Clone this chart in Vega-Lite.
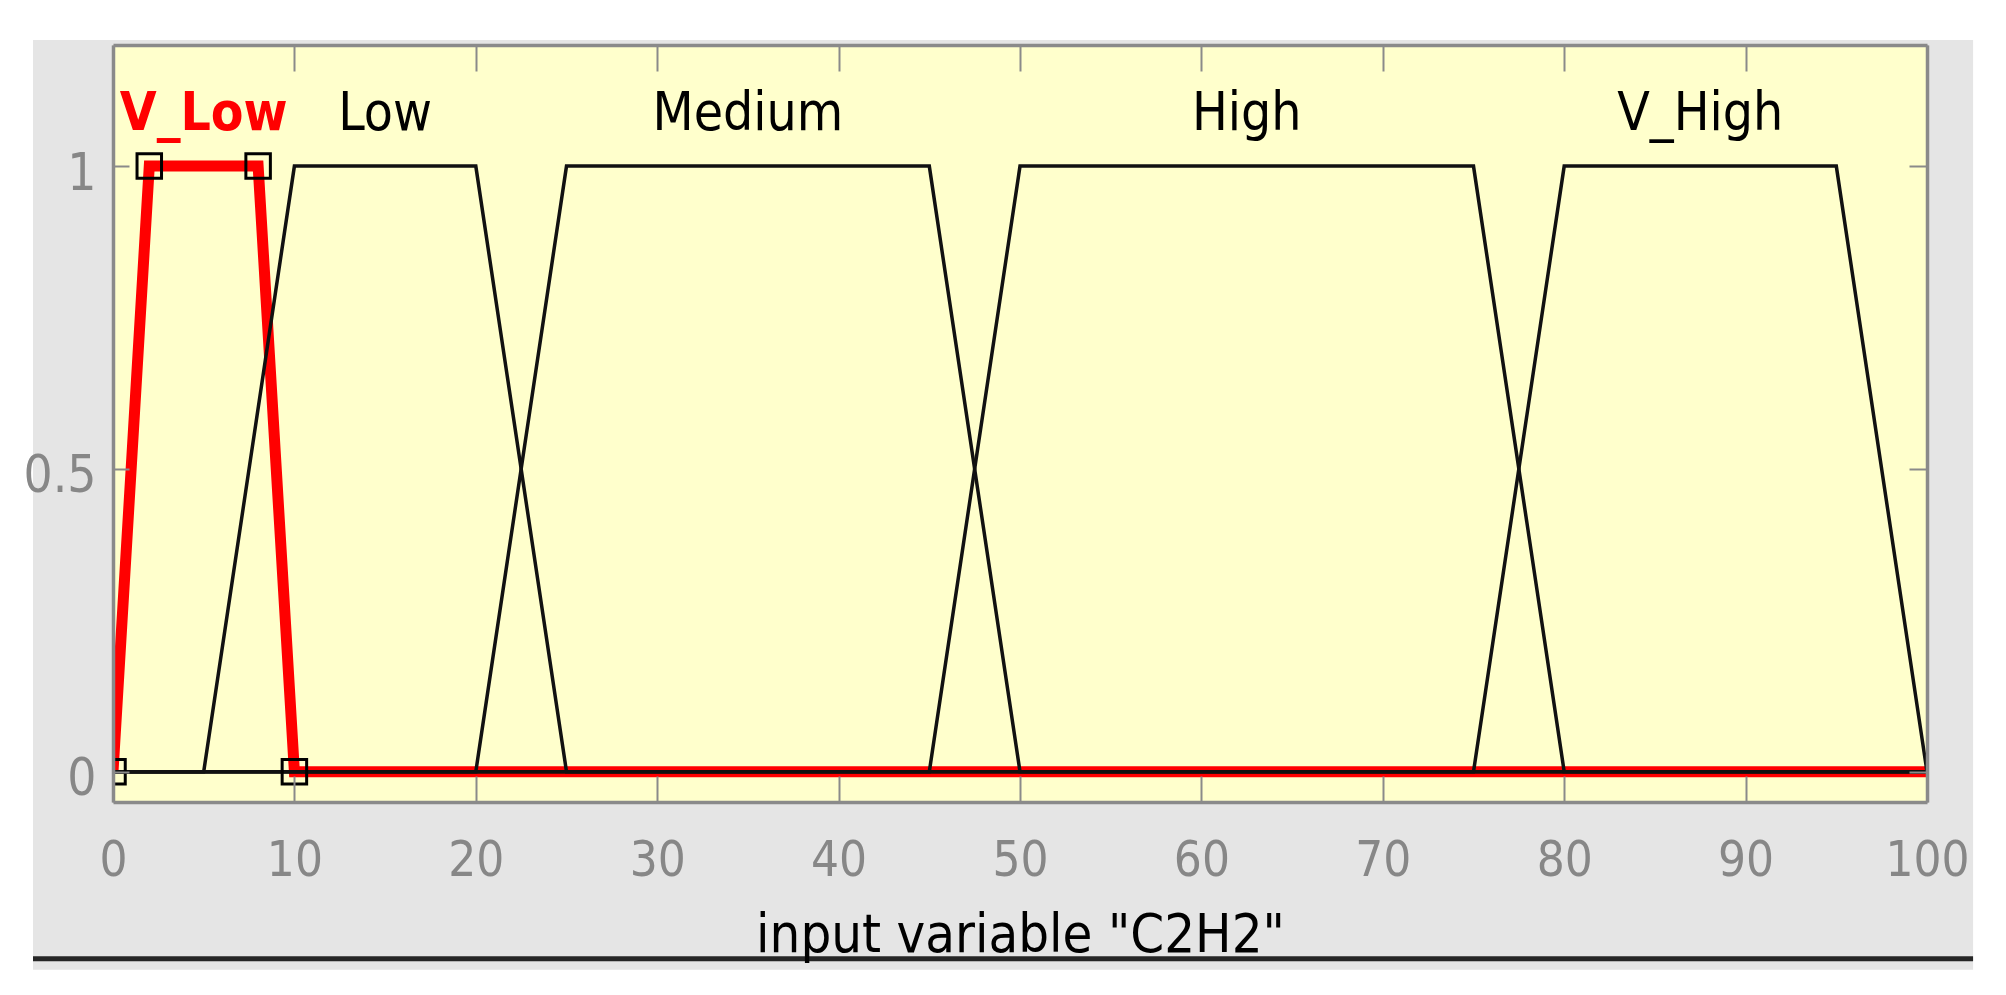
{
  "$schema": "https://vega.github.io/schema/vega-lite/v6.json",
  "width": 1814,
  "height": 757,
  "autosize": {"type": "none"},
  "padding": {"left": 113, "top": 45, "right": 79, "bottom": 193},
  "background": "white",
  "config": {"view": {"stroke": null}, "font": "DejaVu Sans Condensed, DejaVu Sans"},
  "datasets": {
    "mf": [
      {"mf": "V_Low", "x": 0, "y": 0}, {"mf": "V_Low", "x": 2, "y": 1}, {"mf": "V_Low", "x": 8, "y": 1}, {"mf": "V_Low", "x": 10, "y": 0}, {"mf": "V_Low", "x": 100, "y": 0},
      {"mf": "Low", "x": 0, "y": 0}, {"mf": "Low", "x": 5, "y": 0}, {"mf": "Low", "x": 10, "y": 1}, {"mf": "Low", "x": 20, "y": 1}, {"mf": "Low", "x": 25, "y": 0}, {"mf": "Low", "x": 100, "y": 0},
      {"mf": "Medium", "x": 0, "y": 0}, {"mf": "Medium", "x": 20, "y": 0}, {"mf": "Medium", "x": 25, "y": 1}, {"mf": "Medium", "x": 45, "y": 1}, {"mf": "Medium", "x": 50, "y": 0}, {"mf": "Medium", "x": 100, "y": 0},
      {"mf": "High", "x": 0, "y": 0}, {"mf": "High", "x": 45, "y": 0}, {"mf": "High", "x": 50, "y": 1}, {"mf": "High", "x": 75, "y": 1}, {"mf": "High", "x": 80, "y": 0}, {"mf": "High", "x": 100, "y": 0},
      {"mf": "V_High", "x": 0, "y": 0}, {"mf": "V_High", "x": 75, "y": 0}, {"mf": "V_High", "x": 80, "y": 1}, {"mf": "V_High", "x": 95, "y": 1}, {"mf": "V_High", "x": 100, "y": 0}
    ],
    "labels": [
      {"name": "V_Low", "center": 5},
      {"name": "Low", "center": 15},
      {"name": "Medium", "center": 35},
      {"name": "High", "center": 62.5},
      {"name": "V_High", "center": 87.5}
    ]
  },
  "resolve": {"axis": {"x": "independent", "y": "independent"}},
  "layer": [
    {
      "data": {"values": [{}]},
      "mark": {"type": "rect", "color": "#e5e5e5"},
      "encoding": {
        "x": {"datum": -4.41, "type": "quantitative", "scale": {"domain": [0, 100], "nice": false, "zero": false}, "axis": null},
        "x2": {"datum": 102.54},
        "y": {"datum": 1.2083, "type": "quantitative", "scale": {"domain": [-0.05, 1.2], "nice": false, "zero": false}, "axis": null},
        "y2": {"datum": -0.327}
      }
    },
    {
      "data": {"values": [{}]},
      "mark": {"type": "rule", "color": "#262626", "strokeWidth": 5},
      "encoding": {
        "x": {"datum": -4.41, "type": "quantitative", "axis": null},
        "x2": {"datum": 102.54},
        "y": {"datum": -0.309, "type": "quantitative", "axis": null}
      }
    },
    {
      "data": {"values": [{}]},
      "mark": {"type": "rect", "color": "#ffffcc"},
      "encoding": {
        "x": {"datum": 0, "type": "quantitative", "axis": {"orient": "top", "values": [0, 10, 20, 30, 40, 50, 60, 70, 80, 90, 100], "tickSize": -26, "tickColor": "#8a8a8a", "tickWidth": 2, "domainColor": "#8a8a8a", "domainWidth": 3.5, "labels": false, "grid": false, "title": null, "zindex": 1}},
        "x2": {"datum": 100},
        "y": {"datum": -0.05, "type": "quantitative", "axis": {"orient": "right", "values": [0, 0.5, 1], "tickSize": -18, "tickColor": "#8a8a8a", "tickWidth": 2, "domainColor": "#8a8a8a", "domainWidth": 3.5, "labels": false, "grid": false, "title": null, "zindex": 1}},
        "y2": {"datum": 1.2}
      }
    },
    {
      "data": {"name": "mf"},
      "transform": [{"filter": "datum.mf === 'V_Low'"}],
      "mark": {"type": "line", "color": "#ff0000", "strokeWidth": 11, "clip": true},
      "encoding": {
        "x": {"field": "x", "type": "quantitative", "axis": {"orient": "bottom", "values": [0, 10, 20, 30, 40, 50, 60, 70, 80, 90, 100], "tickSize": -26, "tickColor": "#8a8a8a", "tickWidth": 2, "domainColor": "#8a8a8a", "domainWidth": 3.5, "labelFont": "DejaVu Sans Condensed, DejaVu Sans", "labelFontSize": 49, "labelColor": "#878787", "labelBaseline": "alphabetic", "labelPadding": 99, "labelFlush": false, "labelOverlap": false, "grid": false, "title": "input variable \"C2H2\"", "titleFont": "DejaVu Sans Condensed, DejaVu Sans", "titleFontSize": 54, "titleFontWeight": "normal", "titleColor": "#000000", "titleBaseline": "alphabetic", "titleY": 149, "zindex": 1}},
        "y": {"field": "y", "type": "quantitative", "axis": {"orient": "left", "values": [0, 0.5, 1], "format": "~g", "tickSize": -16, "tickColor": "#8a8a8a", "tickWidth": 2, "domainColor": "#8a8a8a", "domainWidth": 3.5, "labelFont": "DejaVu Sans Condensed, DejaVu Sans", "labelFontSize": 51, "labelColor": "#878787", "labelBaseline": "middle", "labelOffset": 8, "labelPadding": 33, "labelFlush": false, "labelOverlap": false, "grid": false, "title": null, "zindex": 1}}
      }
    },
    {
      "data": {"name": "mf"},
      "transform": [{"filter": "datum.mf !== 'V_Low'"}],
      "mark": {"type": "line", "color": "#111111", "strokeWidth": 3.5, "clip": true},
      "encoding": {
        "x": {"field": "x", "type": "quantitative", "axis": null},
        "y": {"field": "y", "type": "quantitative", "axis": null},
        "detail": {"field": "mf", "type": "nominal"}
      }
    },
    {
      "data": {"name": "mf"},
      "transform": [{"filter": "datum.mf === 'V_Low' && datum.x <= 10"}],
      "mark": {"type": "point", "shape": "square", "size": 600, "filled": false, "stroke": "#000000", "strokeWidth": 3, "opacity": 1, "clip": true},
      "encoding": {
        "x": {"field": "x", "type": "quantitative", "axis": null},
        "y": {"field": "y", "type": "quantitative", "axis": null}
      }
    },
    {
      "data": {"name": "labels"},
      "transform": [{"filter": "datum.name !== 'V_Low'"}],
      "mark": {"type": "text", "font": "DejaVu Sans Condensed, DejaVu Sans", "fontSize": 53, "color": "#000000", "align": "center", "baseline": "alphabetic"},
      "encoding": {
        "x": {"field": "center", "type": "quantitative", "axis": null},
        "y": {"datum": 1.0596, "type": "quantitative", "axis": null},
        "text": {"field": "name"}
      }
    },
    {
      "data": {"name": "labels"},
      "transform": [{"filter": "datum.name === 'V_Low'"}],
      "mark": {"type": "text", "font": "DejaVu Sans Condensed, DejaVu Sans", "fontSize": 53, "fontWeight": "bold", "color": "#ff0000", "align": "center", "baseline": "alphabetic"},
      "encoding": {
        "x": {"field": "center", "type": "quantitative", "axis": null},
        "y": {"datum": 1.0596, "type": "quantitative", "axis": null},
        "text": {"field": "name"}
      }
    }
  ]
}
